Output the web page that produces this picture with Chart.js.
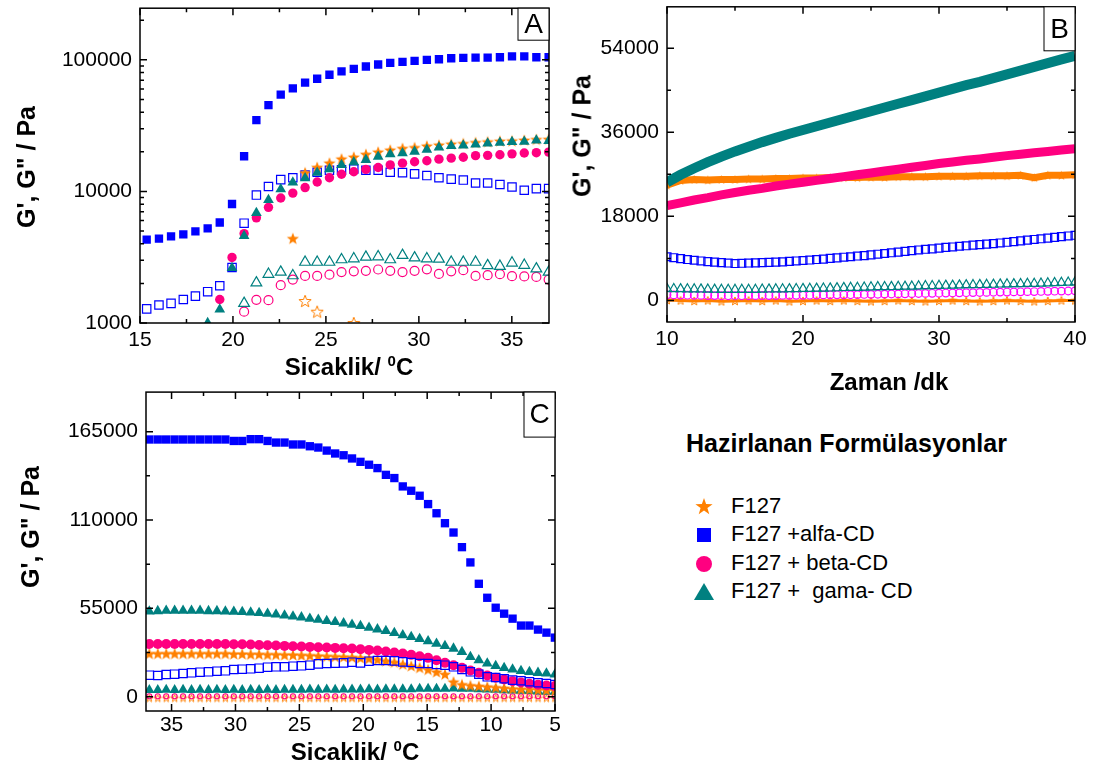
<!DOCTYPE html>
<html>
<head>
<meta charset="utf-8">
<script src="https://cdn.jsdelivr.net/npm/chart.js@4.4.1/dist/chart.umd.min.js"></script>
<style>
  body { margin: 0; width: 1098px; height: 771px; position: relative; overflow: hidden; background: #fff;
         font-family: "Liberation Sans", Arial, sans-serif; color: #000; }
  canvas { position: absolute; }
  .yt, .xt { position: absolute; font-weight: bold; font-size: 24px; line-height: 1; white-space: nowrap; }
  .yt { font-size: 25px; transform: translate(-50%, -50%) rotate(-90deg); }
  .xt { transform: translate(-50%, -50%); }
  .xt sup { font-size: 15px; line-height: 0; vertical-align: 9px; }
  .lg-title { position: absolute; left: 686px; top: 431px; font-weight: bold; font-size: 25px; line-height: 1; white-space: nowrap; }
  .lg { position: absolute; left: 694px; font-size: 22px; line-height: 1; white-space: nowrap; }
  .lg svg { position: absolute; left: 0; top: -9px; }
  .lg span { position: absolute; left: 37px; top: -11px; }
</style>
</head>
<body>
<canvas id="cA" width="560" height="380" style="left:0;top:0"></canvas>
<canvas id="cB" width="538" height="400" style="left:560px;top:0"></canvas>
<canvas id="cC" width="570" height="386" style="left:0;top:385px"></canvas>

<div class="yt" style="left:26px;top:167px">G', G" / Pa</div>
<div class="xt" style="left:349px;top:367px">Sicaklik/ <sup>0</sup>C</div>
<div class="yt" style="left:582px;top:136px">G', G" / Pa</div>
<div class="xt" style="left:889px;top:382px">Zaman /dk</div>
<div class="yt" style="left:30px;top:527px">G', G" / Pa</div>
<div class="xt" style="left:355px;top:752px">Sicaklik/ <sup>0</sup>C</div>

<div class="lg-title">Hazirlanan Formülasyonlar</div>
<div class="lg" style="top:506px"><svg width="20" height="20"><polygon fill="#ff8000" points="10,1 12.1,7.1 18.6,7.2 13.4,11.1 15.3,17.3 10,13.6 4.7,17.3 6.6,11.1 1.4,7.2 7.9,7.1"/></svg><span>F127</span></div>
<div class="lg" style="top:534px"><svg width="20" height="20"><rect x="3" y="3" width="14" height="14" fill="#0000ff"/></svg><span>F127 +alfa-CD</span></div>
<div class="lg" style="top:563px"><svg width="20" height="20"><circle cx="10" cy="10" r="8" fill="#ff0080"/></svg><span>F127 + beta-CD</span></div>
<div class="lg" style="top:591px"><svg width="22" height="20" style="left:-1px"><polygon fill="#008080" points="11,1 21,18 1,18"/></svg><span>F127 + &nbsp;gama- CD</span></div>

<script>
// ---------- Panel A : temperature sweep (heating), log scale ----------
const tempA = [15.36, 16.02, 16.67, 17.33, 17.98, 18.64, 19.29, 19.95, 20.60, 21.26, 21.91, 22.57,
  23.22, 23.88, 24.53, 25.19, 25.84, 26.50, 27.15, 27.81, 28.46, 29.12, 29.77, 30.43, 31.08, 31.74,
  32.39, 33.05, 33.70, 34.36, 35.01, 35.67, 36.32, 36.98];
const aF127G1 = [null, null, null, null, null, null, null, null, null, null, null, null,
  4400, 13900, 15300, 16500, 17700, 18300, 19200, 20000, 20700, 21300, 21600, 22200, 22600, 23000,
  23200, 23600, 23900, 24200, 24300, 24600, 24900, 25000];
const aF127G2 = [null, null, null, null, null, null, null, null, null, null, null, null,
  null, 1470, 1220, null, null, 1000, null, null, null, null, null, null, null, null,
  null, null, null, null, null, null, null, null];
const aAlfaG1 = [4300, 4380, 4560, 4720, 4970, 5240, 5810, 8030, 18500, 34800, 45300, 54500,
  60800, 67100, 71900, 77100, 81700, 85500, 89100, 92200, 94900, 96600, 98200, 100000, 101100, 102800,
  103500, 104000, 104000, 104600, 106400, 106400, 104600, 104600];
const aAlfaG2 = [1280, 1370, 1410, 1510, 1600, 1730, 1920, 2640, 5740, 9380, 10900, 12300,
  12700, 13300, 14000, 14500, 14600, 14800, 14500, 14500, 14000, 13900, 13600, 13200, 12700, 12400,
  12200, 11600, 11600, 11300, 10800, 10200, 10500, 10500];
const aBetaG1 = [null, null, null, null, null, null, 1510, 3150, 4780, 6300, 7570, 8910,
  9710, 10700, 11800, 12700, 13500, 14100, 14700, 15200, 15900, 16400, 16800, 17100, 17600, 17900,
  18200, 18700, 18800, 19000, 19300, 19600, 19700, 19900];
const aBetaG2 = [null, null, null, null, null, null, null, null, 1220, 1500, 1490, 1940,
  2140, 2280, 2280, 2330, 2440, 2470, 2490, 2550, 2490, 2440, 2490, 2560, 2360, 2470,
  2520, 2280, 2310, 2350, 2270, 2260, 2240, 2140];
const aGamaG1 = [null, null, null, null, null, 1000, 1270, 2620, 4590, 6870, 8610, 10400,
  11700, 12600, 13900, 14800, 15900, 16700, 17400, 18400, 19200, 19500, 20100, 20800, 21600, 22200,
  22400, 22800, 23200, 23500, 23800, 23900, 24400, 24200];
const aGamaG2 = [null, null, null, null, null, null, null, null, 1410, 2020, 2350, 2440,
  2290, 2900, 2900, 2900, 3030, 3080, 3170, 3190, 3030, 3270, 3130, 3080, 3060, 2900,
  2900, 2900, 2730, 2700, 2860, 2750, 2580, 2440];
const ticksAx = [15, 20, 25, 30, 35];
const minorAx = [17.5, 22.5, 27.5, 32.5];
const ticksAy = [1000, 10000, 100000];
const minorAy = [2000, 3000, 4000, 5000, 6000, 7000, 8000, 9000, 20000, 30000, 40000, 50000,
  60000, 70000, 80000, 90000, 200000];

// ---------- Panel B : time sweep ----------
const timeB = [10, 11, 12, 13, 14, 15, 16, 17, 18, 19, 20, 21, 22, 23, 24, 25, 26, 27, 28, 29, 30,
  31, 32, 33, 34, 35, 36, 37, 38, 39, 40];
const timeB2 = [10, 10.5, 11, 11.5, 12, 12.5, 13, 13.5, 14, 14.5, 15, 15.5, 16, 16.5, 17, 17.5, 18, 18.5,
  19, 19.5, 20, 20.5, 21, 21.5, 22, 22.5, 23, 23.5, 24, 24.5, 25, 25.5, 26, 26.5, 27, 27.5, 28, 28.5,
  29, 29.5, 30, 30.5, 31, 31.5, 32, 32.5, 33, 33.5, 34, 34.5, 35, 35.5, 36, 36.5, 37, 37.5, 38, 38.5,
  39, 39.5, 40];
const bGamaG1 = [25300, 26900, 28300, 29600, 30800, 31900, 32900, 33900, 34800, 35700, 36500, 37300,
  38100, 38900, 39700, 40500, 41300, 42100, 42900, 43700, 44500, 45300, 46100, 46800, 47600, 48400,
  49200, 50000, 50800, 51600, 52400];
const bBetaG1 = [20300, 20900, 21500, 22000, 22600, 23100, 23600, 24000, 24500, 24900, 25300, 25700,
  26100, 26500, 26900, 27300, 27700, 28100, 28500, 28900, 29300, 29650, 30000, 30300, 30650, 31000,
  31300, 31600, 31900, 32200, 32500];
const bF127G1 = [24700, 25700, 25900, 25800, 25900, 25900, 26000, 26000, 26100, 26100, 26200, 26200,
  26300, 26300, 26300, 26400, 26400, 26500, 26500, 26500, 26600, 26600, 26600, 26700, 26700, 26700,
  26800, 26300, 26800, 26800, 26900];
const bAlfaG2 = [9350, 9150, 8950, 8750, 8600, 8450, 8300, 8200, 8100, 8000, 7900, 7950, 8000, 8050,
  8100, 8150, 8200, 8250, 8350, 8450, 8550, 8650, 8750, 8850, 9000, 9100, 9250, 9350, 9500, 9600,
  9750, 9900, 10050, 10200, 10350, 10500, 10650, 10800, 10950, 11050, 11200, 11350, 11450, 11600,
  11700, 11850, 11950, 12050, 12150, 12300, 12450, 12600, 12750, 12900, 13050, 13200, 13350, 13500,
  13650, 13800, 13950];
const bGamaG2 = [2500, 2480, 2450, 2420, 2400, 2380, 2350, 2330, 2300, 2300, 2300, 2300, 2300, 2320,
  2350, 2380, 2400, 2420, 2450, 2480, 2500, 2520, 2550, 2580, 2600, 2650, 2700, 2720, 2750, 2800,
  2850, 2880, 2900, 2920, 2950, 2980, 3000, 3050, 3100, 3120, 3150, 3180, 3200, 3250, 3300, 3320,
  3350, 3380, 3400, 3450, 3500, 3520, 3550, 3580, 3600, 3650, 3700, 3750, 3800, 3850, 3900];
const bBetaG2 = [1200, 1180, 1150, 1120, 1100, 1080, 1050, 1030, 1000, 1000, 1000, 1000, 1000, 1020,
  1050, 1050, 1050, 1080, 1100, 1100, 1100, 1120, 1150, 1180, 1200, 1200, 1200, 1220, 1250, 1280,
  1300, 1320, 1350, 1380, 1400, 1420, 1450, 1480, 1500, 1520, 1550, 1580, 1600, 1620, 1650, 1680,
  1700, 1720, 1750, 1780, 1800, 1820, 1850, 1880, 1900, 1920, 1950, 1980, 2000, 2020, 2050];
const bF127G2 = [100, 0, -100, 0, -200, -100, 0, -100, 0, -200, -100, 0, -100, 0, -100, -200,
  -100, 0, -100, -200, -100, 0, -100, -200, -100, 0, -100, -200, -100, 0, 0];
const ticksBx = [10, 20, 30, 40];
const minorBx = [15, 25, 35];
const ticksBy = [0, 18000, 36000, 54000];
const minorBy = [9000, 27000, 45000];

// ---------- Panel C : temperature sweep (cooling) ----------
const tempC = [36.74, 36.08, 35.42, 34.76, 34.10, 33.44, 32.77, 32.11, 31.45, 30.79, 30.13, 29.47,
  28.81, 28.15, 27.49, 26.83, 26.16, 25.50, 24.84, 24.18, 23.52, 22.86, 22.20, 21.54, 20.88, 20.22,
  19.55, 18.89, 18.23, 17.57, 16.91, 16.25, 15.59, 14.93, 14.27, 13.61, 12.94, 12.28, 11.62, 10.96,
  10.30, 9.64, 8.98, 8.32, 7.66, 7.00, 6.33, 5.67, 5.01];
const cAlfaG1 = [160100, 160100, 160100, 160100, 160100, 160100, 160100, 160100, 160100, 160100,
  159200, 159200, 160300, 160300, 159200, 158200, 158200, 157000, 157000, 155900, 155100, 153200,
  151400, 150300, 148300, 146200, 144400, 142300, 138100, 136100, 130900, 128200, 125100, 119900,
  114200, 108000, 102200, 93100, 83600, 70300, 61600, 55400, 51700, 48600, 44300, 44300, 41800,
  39900, 36800];
const cAlfaG2 = [13440, 13240, 13860, 14060, 14480, 14890, 15300, 15510, 15920, 16130, 16960, 17160,
  17370, 17780, 18410, 18610, 18610, 19030, 19230, 19650, 20470, 20680, 20890, 21090, 21510, 21090,
  22130, 22540, 22540, 22330, 21710, 21300, 20680, 20680, 20060, 19650, 18610, 16960, 15510, 14060,
  12410, 11990, 11170, 10340, 9930, 9310, 8690, 8270, 7650];
const cBetaG1 = [32880, 32880, 32880, 32880, 32880, 32880, 32880, 32880, 32880, 32880, 32670, 32670,
  32470, 32260, 32050, 31850, 31640, 31440, 31230, 31020, 30810, 30610, 30400, 30190, 29990, 29570,
  29160, 28750, 28120, 27500, 26880, 26060, 25230, 24200, 22750, 21090, 19650, 17990, 16340, 14890,
  13240, 11790, 10750, 9720, 8890, 8070, 7440, 7030, 6620];
const cGamaG1 = [53150, 53350, 53560, 53560, 53560, 53560, 53560, 53350, 53350, 53150, 52940, 52730,
  52530, 52110, 51700, 51290, 50670, 50050, 49430, 48600, 47980, 47150, 46530, 45700, 44880, 44050,
  43010, 41980, 40950, 39710, 38260, 37220, 35980, 34540, 33090, 31640, 29990, 27920, 24820, 22750,
  20680, 19230, 17990, 16960, 16130, 15510, 14890, 14480, 13860];
const cF127G1 = [26880, 26880, 26880, 26880, 26880, 26880, 26880, 26880, 26880, 26880, 26680, 26680,
  26470, 26470, 26260, 26260, 26060, 26060, 25850, 25640, 25440, 25230, 25020, 24820, 24610, 24200,
  23780, 23160, 22330, 21510, 20270, 19230, 18200, 16960, 15510, 14060, 9310, 7650, 7030, 6620,
  6200, 5790, 5380, 4960, 4760, 4550, 4340, 4140, 3930];
const cGamaG2 = [4140, 4140, 4300, 4140, 4300, 4140, 4300, 4140, 4300, 4140, 4300, 4140, 4300, 4140,
  4300, 4140, 4300, 4300, 4300, 4500, 4300, 4500, 4300, 4500, 4500, 4500, 4700, 4500, 4700, 4700,
  4700, 4700, 4900, 4900, 5000, 5000, 5200, 5000, 4900, 4700, 4500, 4300, 4100, 3900, 3700, 3500,
  3300, 3100, 3100];
const cBetaG2 = [300, 300, 300, 300, 300, 300, 300, 300, 300, 300, 300, 300, 300, 300, 300, 300,
  300, 300, 300, 300, 300, 300, 300, 300, 300, 300, 300, 300, 300, 300, 300, 300, 300, 300, 300,
  300, 300, 300, 300, 300, 300, 300, 300, 300, 300, 300, 300, 300, 300];
const cF127G2 = [-800, -800, -800, -800, -800, -800, -800, -800, -800, -800, -800, -800, -800, -800,
  -800, -800, -800, -800, -800, -800, -800, -800, -800, -800, -800, -800, -800, -800, -800, -800,
  -800, -800, -800, -800, -800, -800, -800, -800, -800, -800, -800, -800, -800, -800, -800, -800,
  -800, -800, -800];
const ticksCx = [35, 30, 25, 20, 15, 10, 5];
const minorCx = [32.5, 27.5, 22.5, 17.5, 12.5, 7.5];
const ticksCy = [0, 55000, 110000, 165000];
const minorCy = [27500, 82500, 137500];

const ORANGE = '#ff8000', BLUE = '#0000ff', PINK = '#ff0080', TEAL = '#008080', MAGENTA = '#ff00ff';
const FONT = { family: 'Liberation Sans', size: 21 };

function makeStar(color, size, filled) {
  const c = document.createElement('canvas');
  c.width = size; c.height = size;
  const g = c.getContext('2d');
  const R = size / 2 - 0.6, r = R * 0.42, cx = size / 2, cy = size / 2 + R * 0.1;
  g.beginPath();
  for (let k = 0; k < 10; k++) {
    const ang = -Math.PI / 2 + k * Math.PI / 5;
    const rr = k % 2 ? r : R;
    g.lineTo(cx + rr * Math.cos(ang), cy + rr * Math.sin(ang));
  }
  g.closePath();
  if (filled) { g.fillStyle = color; g.fill(); }
  else { g.strokeStyle = color; g.lineWidth = 1; g.stroke(); }
  return c;
}

function pair(xs, ys) {
  return xs.map((x, i) => ({ x: x, y: ys[i] })).filter(p => p.y !== null);
}

function marks(xs, ys, style, color, filled, r, order) {
  return {
    data: pair(xs, ys), order: order, showLine: false,
    pointStyle: style, pointRadius: r,
    pointBackgroundColor: filled ? color : 'rgba(0,0,0,0)',
    pointBorderColor: color, pointBorderWidth: filled ? 0 : 1.2
  };
}

const framePlugin = {
  id: 'frame',
  afterDraw(chart, args, o) {
    const ctx = chart.ctx, a = chart.chartArea, xs = chart.scales.x, ys = chart.scales.y;
    ctx.save();
    ctx.strokeStyle = '#000';
    ctx.lineWidth = 1.5;
    ctx.beginPath();
    const xt = (vals, len) => vals.forEach(v => {
      const p = xs.getPixelForValue(v);
      ctx.moveTo(p, a.bottom); ctx.lineTo(p, a.bottom - len);
      ctx.moveTo(p, a.top); ctx.lineTo(p, a.top + len);
    });
    const yt = (vals, len) => vals.forEach(v => {
      const p = ys.getPixelForValue(v);
      ctx.moveTo(a.left, p); ctx.lineTo(a.left + len, p);
      ctx.moveTo(a.right, p); ctx.lineTo(a.right - len, p);
    });
    xt(o.xMajor, 7); xt(o.xMinor, 4); yt(o.yMajor, 7); yt(o.yMinor, 4);
    ctx.stroke();
    ctx.strokeRect(a.left, a.top, a.right - a.left, a.bottom - a.top);
    // panel letter
    const w = o.boxW, h = o.boxH;
    ctx.fillStyle = '#fff';
    ctx.fillRect(a.right - w, a.top, w, h);
    ctx.lineWidth = 1;
    ctx.strokeRect(a.right - w, a.top, w, h);
    ctx.fillStyle = '#000';
    ctx.font = '28px "Liberation Sans"';
    ctx.textAlign = 'center';
    ctx.textBaseline = 'middle';
    ctx.fillText(o.letter, a.right - w / 2, a.top + h / 2 + 1);
    ctx.restore();
  }
};

function axis(opts) {
  return Object.assign({
    grid: { display: false, drawTicks: false },
    border: { display: false },
  }, opts);
}

// fixed axis boxes, no extra label padding, so chart areas land where the figure has them
function fixX(h) { return s => { s.height = h; s.paddingLeft = 0; s.paddingRight = 0; }; }
function fixY(w) { return s => { s.width = w; s.paddingTop = 0; s.paddingBottom = 0; }; }

function baseOptions(pad, frame, xAxis, yAxis) {
  return {
    responsive: false, animation: false, events: [],
    layout: { padding: pad },
    plugins: { legend: { display: false }, tooltip: { enabled: false }, frame: frame },
    scales: { x: xAxis, y: yAxis }
  };
}

// ----- chart A -----
const starA = makeStar(ORANGE, 14, true), starAo = makeStar(ORANGE, 14, false);
new Chart(document.getElementById('cA'), {
  type: 'scatter',
  data: { datasets: [
    marks(tempA, aGamaG1, 'triangle', TEAL, true, 6.2, 0),
    marks(tempA, aBetaG1, 'circle', PINK, true, 4.7, 1),
    marks(tempA, aF127G1, starA, ORANGE, true, 7, 2),
    marks(tempA, aAlfaG1, 'rect', BLUE, true, 5.9, 3),
    marks(tempA, aAlfaG2, 'rect', BLUE, false, 5.9, 4),
    marks(tempA, aGamaG2, 'triangle', TEAL, false, 6.2, 5),
    marks(tempA, aBetaG2, 'circle', PINK, false, 4.5, 6),
    marks(tempA, aF127G2, starAo, ORANGE, false, 7, 7)
  ] },
  options: baseOptions({ left: 0, top: 5, right: 11, bottom: 0 },
    { xMajor: ticksAx, xMinor: minorAx, yMajor: ticksAy, yMinor: minorAy, letter: 'A', boxW: 31, boxH: 32 },
    axis({ type: 'linear', min: 15, max: 37,
      ticks: { font: FONT, color: '#000', padding: 5, maxRotation: 0 },
      afterBuildTicks: s => { s.ticks = ticksAx.map(v => ({ value: v })); },
      afterFit: fixX(57) }),
    axis({ type: 'logarithmic', min: 1000, max: 247000,
      ticks: { font: FONT, color: '#000', padding: 8, callback: v => String(v) },
      afterBuildTicks: s => { s.ticks = ticksAy.map(v => ({ value: v })); },
      afterFit: fixY(140) })),
  plugins: [framePlugin]
});

// ----- chart B -----
const starB = makeStar(ORANGE, 11, true), starBo = makeStar(ORANGE, 10, false);
function band(xs, ys, color, width, order, style, r) {
  return {
    data: pair(xs, ys), order: order, showLine: true, borderColor: color, borderWidth: width,
    pointStyle: style || 'circle', pointRadius: r || 0,
    pointBackgroundColor: color, pointBorderWidth: 0
  };
}
new Chart(document.getElementById('cB'), {
  type: 'scatter',
  data: { datasets: [
    band(timeB, bGamaG1, TEAL, 10, 0),
    band(timeB, bBetaG1, PINK, 9, 1),
    band(timeB, bF127G1, ORANGE, 7, 2, starB, 5),
    marks(timeB2, bAlfaG2, 'rect', BLUE, false, 5.6, 3),
    marks(timeB2, bGamaG2, 'triangle', TEAL, false, 5.4, 4),
    marks(timeB2, bBetaG2, 'circle', MAGENTA, false, 3.8, 5),
    band(timeB, bF127G2, ORANGE, 3, 6, starBo, 5)
  ] },
  options: baseOptions({ left: 0, top: 5, right: 23, bottom: 0 },
    { xMajor: ticksBx, xMinor: minorBx, yMajor: ticksBy, yMinor: minorBy, letter: 'B', boxW: 31, boxH: 44 },
    axis({ type: 'linear', min: 10, max: 40,
      ticks: { font: FONT, color: '#000', padding: 5, maxRotation: 0 },
      afterBuildTicks: s => { s.ticks = ticksBx.map(v => ({ value: v })); },
      afterFit: fixX(78) }),
    axis({ type: 'linear', min: -4620, max: 62870,
      ticks: { font: FONT, color: '#000', padding: 8, callback: v => String(v) },
      afterBuildTicks: s => { s.ticks = ticksBy.map(v => ({ value: v })); },
      afterFit: fixY(107) })),
  plugins: [framePlugin]
});

// ----- chart C -----
const starC = makeStar(ORANGE, 14, true), starCo = makeStar(ORANGE, 9, false);
new Chart(document.getElementById('cC'), {
  type: 'scatter',
  data: { datasets: [
    marks(tempC, cAlfaG1, 'rect', BLUE, true, 5.9, 0),
    marks(tempC, cGamaG1, 'triangle', TEAL, true, 6.2, 1),
    marks(tempC, cAlfaG2, 'rect', BLUE, false, 5.9, 2),
    marks(tempC, cBetaG1, 'circle', PINK, true, 5, 3),
    marks(tempC, cF127G1, starC, ORANGE, true, 7, 4),
    marks(tempC, cGamaG2, 'triangle', TEAL, true, 6, 5),
    marks(tempC, cBetaG2, 'circle', PINK, false, 2.5, 6),
    marks(tempC, cF127G2, starCo, ORANGE, false, 5, 7)
  ] },
  options: baseOptions({ left: 0, top: 6, right: 15, bottom: 0 },
    { xMajor: ticksCx, xMinor: minorCx, yMajor: ticksCy, yMinor: minorCy, letter: 'C', boxW: 31, boxH: 45 },
    axis({ type: 'linear', min: 5, max: 37, reverse: true,
      ticks: { font: FONT, color: '#000', padding: 2, maxRotation: 0 },
      afterBuildTicks: s => { s.ticks = ticksCx.map(v => ({ value: v })); },
      afterFit: fixX(60) }),
    axis({ type: 'linear', min: -8870, max: 189600,
      ticks: { font: FONT, color: '#000', padding: 8, callback: v => String(v) },
      afterBuildTicks: s => { s.ticks = ticksCy.map(v => ({ value: v })); },
      afterFit: fixY(146) })),
  plugins: [framePlugin]
});
</script>
</body>
</html>
